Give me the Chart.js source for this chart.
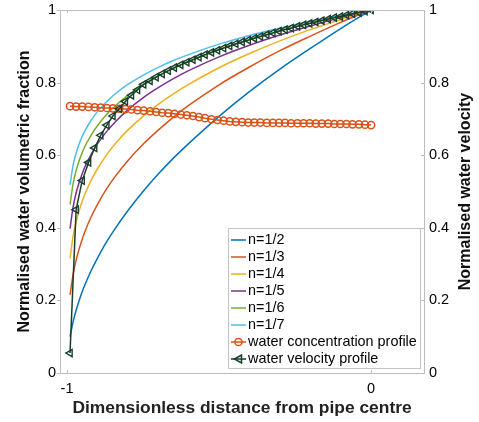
<!DOCTYPE html>
<html>
<head>
<meta charset="utf-8">
<script src="https://cdn.jsdelivr.net/npm/chart.js@4.4.1/dist/chart.umd.min.js"></script>
<style>
html,body{margin:0;padding:0;background:#fff;}
#c{display:block;}
</style>
</head>
<body>
<canvas id="c" width="479" height="422" style="width:479px;height:422px"></canvas>
<script>
// ---- Data ----
const lineX = [-0.99,-0.98,-0.97,-0.96,-0.95,-0.94,-0.92,-0.90,-0.87,-0.84,-0.80,-0.75,-0.70,-0.65,-0.60,-0.50,-0.40,-0.30,-0.20,-0.10,0];
const n2 = [0.100,0.141,0.173,0.200,0.224,0.245,0.283,0.316,0.361,0.400,0.447,0.500,0.548,0.592,0.632,0.707,0.775,0.837,0.894,0.949,1.000];
const n3 = [0.215,0.271,0.311,0.342,0.368,0.392,0.431,0.464,0.507,0.543,0.585,0.630,0.669,0.705,0.737,0.794,0.843,0.888,0.928,0.966,1.000];
const n4 = [0.316,0.376,0.416,0.447,0.473,0.495,0.532,0.562,0.601,0.633,0.669,0.707,0.740,0.769,0.795,0.841,0.880,0.915,0.946,0.974,1.000];
const n5 = [0.398,0.457,0.496,0.525,0.549,0.570,0.603,0.631,0.665,0.693,0.725,0.758,0.786,0.811,0.833,0.871,0.903,0.931,0.956,0.979,1.000];
const n6 = [0.464,0.521,0.558,0.585,0.607,0.626,0.656,0.681,0.712,0.737,0.765,0.794,0.818,0.840,0.858,0.891,0.918,0.942,0.964,0.983,1.000];
const n7 = [0.518,0.572,0.606,0.631,0.652,0.669,0.697,0.720,0.747,0.770,0.795,0.820,0.842,0.861,0.877,0.906,0.930,0.950,0.969,0.985,1.000];

const profileX = [-0.990,-0.970,-0.950,-0.929,-0.909,-0.889,-0.869,-0.849,-0.828,-0.808,
                  -0.788,-0.768,-0.748,-0.727,-0.707,-0.687,-0.667,-0.647,-0.626,-0.606,
                  -0.586,-0.566,-0.546,-0.525,-0.505,-0.485,-0.465,-0.445,-0.424,-0.404,
                  -0.384,-0.364,-0.343,-0.323,-0.303,-0.283,-0.263,-0.242,-0.222,-0.202,
                  -0.182,-0.162,-0.141,-0.121,-0.101,-0.081,-0.061,-0.040,-0.020,0];
const concentration = [0.735,0.734,0.734,0.733,0.732,0.731,0.730,0.729,0.728,0.727,
                       0.726,0.724,0.723,0.721,0.719,0.717,0.716,0.714,0.712,0.710,
                       0.708,0.705,0.702,0.699,0.697,0.695,0.693,0.692,0.691,0.690,
                       0.690,0.690,0.689,0.689,0.689,0.689,0.688,0.688,0.688,0.688,
                       0.687,0.687,0.687,0.686,0.686,0.686,0.685,0.685,0.684,0.683];
const velocity = [0.055,0.450,0.530,0.580,0.620,0.655,0.683,0.708,0.728,0.748,
                  0.765,0.780,0.795,0.805,0.815,0.824,0.833,0.841,0.849,0.856,
                  0.863,0.870,0.877,0.883,0.889,0.895,0.901,0.907,0.912,0.917,
                  0.922,0.927,0.932,0.937,0.942,0.946,0.950,0.955,0.959,0.963,
                  0.967,0.971,0.975,0.979,0.982,0.986,0.990,0.993,0.997,1.000];

const seriesNames = ['n=1/2','n=1/3','n=1/4','n=1/5','n=1/6','n=1/7','water concentration profile','water velocity profile'];
const yTicks = [0,0.2,0.4,0.6,0.8,1];
const xTicks = [-1,0];
const colors = ['#0072BD','#D95319','#EDB120','#7E2F8E','#77AC30','#4DBEEE','#D95319','#173F2A'];

const FONT = '"Liberation Sans", Arial, Helvetica, sans-serif';
const AXIS_COLOR = '#bdbdbd';

function pts(xs, ys){ return xs.map((x,i)=>({x:x,y:ys[i]})); }

const powerSets = [n2,n3,n4,n5,n6,n7].map((arr,i)=>({
  label: seriesNames[i],
  data: pts(lineX, arr),
  borderColor: colors[i],
  backgroundColor: colors[i],
  borderWidth: 1.5,
  pointRadius: 0,
  cubicInterpolationMode: 'monotone',
  yAxisID: 'y',
  order: 5
}));

const datasets = powerSets.concat([
  {
    label: seriesNames[6],
    data: pts(profileX, concentration),
    borderColor: colors[6],
    backgroundColor: 'rgba(0,0,0,0)',
    borderWidth: 1.5,
    pointStyle: 'circle',
    pointRadius: 3.6,
    pointBorderWidth: 1.5,
    pointBorderColor: colors[6],
    pointBackgroundColor: 'rgba(0,0,0,0)',
    yAxisID: 'y',
    order: 2
  },
  {
    label: seriesNames[7],
    data: pts(profileX, velocity),
    borderColor: colors[7],
    backgroundColor: 'rgba(0,0,0,0)',
    borderWidth: 1.5,
    pointStyle: 'triangle',
    pointRotation: -90,
    pointRadius: 4.2,
    pointBorderWidth: 1.4,
    pointBorderColor: colors[7],
    pointBackgroundColor: 'rgba(0,0,0,0)',
    yAxisID: 'y1',
    order: 1
  }
]);

function zeroVPad(s){ s.paddingTop = 0; s.paddingBottom = 0; }

const framePlugin = {
  id: 'frame',
  afterDatasetsDraw(chart){
    const {ctx, chartArea:a, scales} = chart;
    ctx.save();
    ctx.strokeStyle = AXIS_COLOR;
    ctx.lineWidth = 1;
    ctx.beginPath();
    ctx.moveTo(a.left, a.top+0.5);
    ctx.lineTo(a.right, a.top+0.5);
    ctx.stroke();
    // ticks
    ctx.beginPath();
    yTicks.forEach(v=>{
      const py = Math.round(scales.y.getPixelForValue(v))+0.5;
      ctx.moveTo(a.left-3, py); ctx.lineTo(a.left, py);
      const py1 = Math.round(scales.y1.getPixelForValue(v))+0.5;
      ctx.moveTo(a.right, py1); ctx.lineTo(a.right-3, py1);
    });
    xTicks.forEach(v=>{
      const px = Math.round(scales.x.getPixelForValue(v))+0.5;
      ctx.moveTo(px, a.bottom); ctx.lineTo(px, a.bottom-3);
      ctx.moveTo(px, a.top); ctx.lineTo(px, a.top+3);
    });
    ctx.stroke();

    // right axis title (reads bottom to top)
    ctx.save();
    ctx.translate(466, (a.top + a.bottom)/2);
    ctx.rotate(-Math.PI/2);
    ctx.font = 'bold 16px ' + FONT;
    ctx.fillStyle = '#111';
    ctx.textAlign = 'center';
    ctx.textBaseline = 'middle';
    ctx.fillText('Normalised water velocity', 0, 0);
    ctx.restore();

    // legend
    const bx = 228.5, by = 228.5, bw = 192, bh = 140;
    ctx.fillStyle = '#ffffff';
    ctx.fillRect(bx, by, bw, bh);
    ctx.strokeStyle = '#c4c4c4';
    ctx.strokeRect(bx, by, bw, bh);
    ctx.font = '14.4px ' + FONT;
    ctx.textBaseline = 'middle';
    ctx.textAlign = 'left';
    chart.data.datasets.forEach((ds, i)=>{
      const cy = 240 + i*17.0;
      ctx.strokeStyle = ds.borderColor;
      ctx.lineWidth = 1.5;
      ctx.beginPath();
      ctx.moveTo(231, cy); ctx.lineTo(246, cy);
      ctx.stroke();
      if (i === 6) {
        ctx.beginPath();
        ctx.arc(238.5, cy, 3.6, 0, Math.PI*2);
        ctx.stroke();
      } else if (i === 7) {
        ctx.beginPath();
        ctx.moveTo(234.5, cy);
        ctx.lineTo(241.5, cy-4);
        ctx.lineTo(241.5, cy+4);
        ctx.closePath();
        ctx.stroke();
      }
      ctx.fillStyle = '#000';
      ctx.fillText(ds.label, 248, cy+0.5);
    });
    ctx.restore();
  }
};

new Chart(document.getElementById('c'), {
  type: 'line',
  data: { datasets: datasets },
  options: {
    responsive: false,
    animation: false,
    layout: { padding: { top: 10, left: 0, right: 0, bottom: 0 } },
    plugins: { legend: { display: false }, tooltip: { enabled: false } },
    scales: {
      x: {
        type: 'linear',
        min: -1.023, max: 0.174,
        afterBuildTicks(s){ s.ticks = xTicks.map(v=>({value:v})); },
        afterFit(s){ s.height = 49; s.paddingLeft = 0; s.paddingRight = 0; },
        grid: { display: false, drawTicks: false, tickLength: 0 },
        border: { display: true, color: AXIS_COLOR },
        ticks: { color: '#000', font: { family: FONT, size: 14.5 }, padding: 7, maxRotation: 0,
                 callback: v => String(v) },
        title: { display: true, text: 'Dimensionless distance from pipe centre', color: '#222',
                 font: { family: FONT, size: 17.4, weight: 'bold' }, padding: { top: 0, bottom: 3 } }
      },
      y: {
        position: 'left',
        min: 0, max: 1,
        afterBuildTicks(s){ s.ticks = yTicks.map(v=>({value:v})); },
        afterFit(s){ s.width = 60; zeroVPad(s); },
        grid: { display: false, drawTicks: false, tickLength: 0 },
        border: { display: true, color: AXIS_COLOR },
        ticks: { color: '#000', font: { family: FONT, size: 14.5 }, padding: 4,
                 callback: v => String(+v.toFixed(1)) },
        title: { display: true, text: 'Normalised water volumetric fraction', color: '#111',
                 font: { family: FONT, size: 16, weight: 'bold' }, padding: { top: 15, bottom: 0 } }
      },
      y1: {
        position: 'right',
        min: 0, max: 1,
        afterBuildTicks(s){ s.ticks = yTicks.map(v=>({value:v})); },
        afterFit(s){ s.width = 55; zeroVPad(s); },
        grid: { display: false, drawTicks: false, tickLength: 0 },
        border: { display: true, color: AXIS_COLOR },
        ticks: { color: '#000', font: { family: FONT, size: 14.5 }, padding: 5,
                 callback: v => String(+v.toFixed(1)) },
        title: { display: false }
      }
    }
  },
  plugins: [framePlugin]
});
</script>
</body>
</html>
